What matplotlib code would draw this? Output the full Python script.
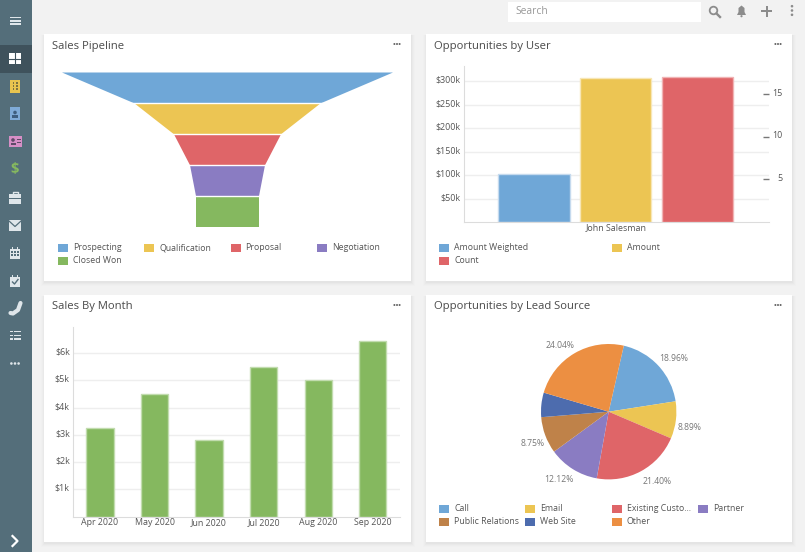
import numpy as np
import matplotlib
matplotlib.use('Agg')
import matplotlib.pyplot as plt
from matplotlib.patches import Rectangle, Circle, Polygon
from matplotlib.transforms import ScaledTranslation

plt.rcParams['font.family'] = ['Open Sans', 'DejaVu Sans']

W, H = 805, 552
BLUE, YELLOW, RED, PURPLE, GREEN = '#6fa7d7', '#ecc553', '#df6568', '#8a7cc2', '#85b85f'
BROWN, NAVY, ORANGE = '#bf8249', '#4d6cae', '#ec8f42'
GRID = '#eeeeee'
AXIS = '#dcdcdc'
TXT = '#555555'

# funnel
stages = ['Prospecting', 'Qualification', 'Proposal', 'Negotiation', 'Closed Won']
stage_colors = [BLUE, YELLOW, RED, PURPLE, GREEN]
funnel_top = [331, 186, 107, 75, 63]
funnel_bottom = [186, 107, 75, 63, 63]

# opportunities by user
user_names = ['John Salesman']
user_series = ['Amount Weighted', 'Amount', 'Count']
amount_weighted = [102000]
amount = [308000]
count = [17]

# sales by month
months = ['Apr 2020', 'May 2020', 'Jun 2020', 'Jul 2020', 'Aug 2020', 'Sep 2020']
sales = [3250, 4500, 2800, 5500, 5000, 6450]

# lead source
sources = ['Call', 'Email', 'Existing Custo...', 'Partner', 'Public Relations', 'Web Site', 'Other']
source_pct = [18.96, 8.89, 21.40, 12.12, 8.75, 5.84, 24.04]
source_colors = [BLUE, YELLOW, RED, PURPLE, BROWN, NAVY, ORANGE]

fig = plt.figure(figsize=(W / 100, H / 100), dpi=100, facecolor='#f2f2f2')


def px_axes(x0, y0, x1, y1, **kw):
    # pixel box, y measured from the top of the image
    return fig.add_axes([x0 / W, 1 - y1 / H, (x1 - x0) / W, (y1 - y0) / H], **kw)


ui = px_axes(0, 0, W, H)
ui.set_xlim(0, W)
ui.set_ylim(H, 0)
ui.axis('off')


def rect(x0, y0, x1, y1, c, **kw):
    ui.add_patch(Rectangle((x0, y0), x1 - x0, y1 - y0, fc=c, ec='none', **kw))


def dots(x, y, c, vertical=False, r=1.1, gap=3.2):
    for k in (-1, 0, 1):
        pos = (x, y + k * gap) if vertical else (x + k * gap, y)
        ui.add_patch(Circle(pos, r, fc=c, ec='none'))


def card(x0, y0, x1, y1, title):
    for k, a in zip((4, 3, 2, 1), (0.008, 0.012, 0.016, 0.02)):
        rect(x0 - k + 1, y0 + 1, x1 + k, y1 + k + 1, 'black', alpha=a)
    rect(x0, y0, x1, y1, 'white')
    ui.text(x0 + 7.7, y0 + 12, title, fontsize=8.15, color='#4a4a4a', va='center')
    dots(x1 - 14, y0 + 10, '#666666', r=1.0, gap=2.6)


def legend(x0, y0, step, labels, colors, ncol=4):
    for i, (lab, c) in enumerate(zip(labels, colors)):
        col, row = i % ncol, i // ncol
        x = x0 + col * step
        y = y0 + row * 13
        rect(x, y, x + 10, y + 8, c)
        ui.text(x + 15, y + 3.5, lab, fontsize=6.35, color=TXT, va='center')


def lift_labels(axis, px=2):
    # y tick labels sit a little above their grid lines
    for lab in axis.get_yticklabels():
        lab.set_transform(lab.get_transform() + ScaledTranslation(0, px / 100, fig.dpi_scale_trans))


# sidebar
rect(0, 0, 32, H, '#546e7a')
rect(0, 45, 32, 73, '#3f525c')
ICON = '#dfe6ea'
for y in (17.5, 20.8, 24):
    rect(10, y - 0.8, 21, y + 0.8, ICON)
rect(9, 53, 21, 64, 'white')
ui.plot([15, 15], [53, 64], color='#3f525c', lw=0.8)
ui.plot([9, 21], [58.5, 58.5], color='#3f525c', lw=0.8)
rect(10, 80, 20, 93, '#e8c44f')
for yy in (83, 86, 89):
    for xx in (13.3, 16.7):
        rect(xx - 0.8, yy - 0.8, xx + 0.8, yy + 0.8, '#7d7340')
rect(10, 107, 20, 120, '#7fabd8')
ui.add_patch(Circle((15, 112.5), 1.8, fc='#3f5f80', ec='none'))
rect(12, 115, 18, 117.5, '#3f5f80')
rect(9, 136, 22, 147, '#d68fc6')
ui.add_patch(Circle((13, 140), 1.8, fc='#5f4a68', ec='none'))
rect(10.5, 142.5, 15.5, 145, '#5f4a68')
rect(17, 139, 21, 140.2, '#5f4a68')
rect(17, 142, 21, 143.2, '#5f4a68')
ui.text(15, 169, '$', fontsize=10.5, fontweight='bold', color='#86b95f', ha='center', va='center')
rect(9, 194, 21, 204, ICON)
rect(9, 198, 21, 199, '#546e7a')
ui.plot([12.5, 12.5, 17.5, 17.5], [194, 191.5, 191.5, 194], color=ICON, lw=1)
rect(9, 220, 21, 231, ICON)
ui.plot([9, 15, 21], [221, 226.5, 221], color='#546e7a', lw=0.9)
rect(10, 249, 20, 259, ICON)
for yy in (252, 255):
    for xx in (12, 15, 18):
        rect(xx - 0.9, yy - 0.9, xx + 0.9, yy + 0.9, '#546e7a')
rect(12, 247, 13, 250, ICON)
rect(17, 247, 18, 250, ICON)
rect(10, 277, 20, 287, ICON)
rect(12, 275, 13, 278, ICON)
rect(17, 275, 18, 278, ICON)
ui.plot([12.5, 14.5, 18], [282, 284, 279.5], color='#546e7a', lw=1)
ui.plot([10.5, 13, 18, 20.5], [313, 313.5, 310, 303], color=ICON, lw=3, solid_capstyle='round')
for yy in (331.5, 335.2, 339):
    rect(14, yy - 0.7, 21, yy + 0.7, ICON)
    rect(10, yy - 0.7, 12.5, yy + 0.7, ICON)
dots(15, 363.5, ICON, r=1.3, gap=3.6)
ui.plot([12.5, 17.5, 12.5], [536, 541, 546], color='white', lw=1.6)

# top bar
rect(508, 2, 701, 22, 'white')
ui.text(515, 11.5, 'Search', fontsize=7.4, color='#999999', va='center')
ui.add_patch(Circle((713.5, 10.5), 3.8, fc='none', ec='#8c8c8c', lw=1.3))
ui.plot([716.5, 720], [13.5, 17], color='#8c8c8c', lw=1.7)
ui.add_patch(Polygon([[737, 15], [738.5, 12], [738.5, 8], [741.5, 5.5], [744.5, 8], [744.5, 12], [746, 15]],
                     fc='#8c8c8c', ec='none'))
ui.add_patch(Circle((741.5, 16.2), 1.1, fc='#8c8c8c', ec='none'))
rect(761, 10, 772, 12, '#8c8c8c')
rect(765.5, 5.5, 767.5, 16.5, '#8c8c8c')
dots(792, 10.5, '#8c8c8c', vertical=True, r=1.3, gap=4.3)

card(44, 34, 411, 281, 'Sales Pipeline')
card(426, 34, 792, 281, 'Opportunities by User')
card(44, 295, 411, 542, 'Sales By Month')
card(426, 295, 792, 542, 'Opportunities by Lead Source')

legend(58, 244, 86.3, stages, stage_colors)
legend(439, 244, 173, user_series, [BLUE, YELLOW, RED], ncol=2)
legend(439, 505, 86.3, sources, source_colors)

# funnel
ax = px_axes(62, 72.5, 393, 227)
ax.set_xlim(-165.5, 165.5)
ax.set_ylim(len(stages), 0)
ax.axis('off')
for i, (top, bot, c) in enumerate(zip(funnel_top, funnel_bottom, stage_colors)):
    ax.fill([-top / 2, top / 2, bot / 2, -bot / 2], [i, i, i + 1, i + 1], color=c, ec='none')
ax.hlines(np.arange(1, len(stages)), -165.5, 165.5, color='white', lw=1)

# opportunities by user
ax = px_axes(463.5, 66, 769, 222)
ax.patch.set_alpha(0)
ax.set_xlim(-0.5, 0.5)
ax.set_ylim(0, 333000)
ax.set_yticks(np.arange(50000, 300001, 50000))
ax.set_yticklabels(['$%dk' % (v / 1000) for v in np.arange(50000, 300001, 50000)])
ax.set_xticks([0.0])
ax.set_xticklabels(user_names)
ax.grid(axis='y', color=GRID, lw=1)
ax.set_axisbelow(True)
ax.tick_params(length=0, labelsize=6.4, labelcolor=TXT, pad=2)
ax.tick_params(axis='x', pad=1)
for s in ('top', 'right'):
    ax.spines[s].set_visible(False)
for s in ('left', 'bottom'):
    ax.spines[s].set_color(AXIS)
ax.bar([-0.269], amount_weighted, width=0.234, color=BLUE, ec='#c5daee', lw=1)
ax.bar([-0.002], amount, width=0.234, color=YELLOW, ec='#f7e6b5', lw=1)
lift_labels(ax)
ax2 = ax.twinx()
ax2.patch.set_alpha(0)
ax2.set_ylim(0, 18.3)
ax2.set_yticks([5, 10, 15])
ax2.tick_params(axis='y', direction='in', length=4.3, width=1, color='#777777',
                labelsize=6.4, labelcolor=TXT, pad=9.4)
for lab in ax2.get_yticklabels():
    lab.set_ha('right')
for s in ax2.spines.values():
    s.set_visible(False)
ax2.bar([0.266], count, width=0.234, color=RED, ec='#f0b3b4', lw=1)
lift_labels(ax2)

# sales by month
ax = px_axes(72.7, 327, 400, 516.5)
ax.patch.set_alpha(0)
xs = np.arange(len(months))
ax.set_xlim(-0.5, 5.5)
ax.set_ylim(0, 6960)
ax.set_yticks(np.arange(1000, 6001, 1000))
ax.set_yticklabels(['$%dk' % (v / 1000) for v in np.arange(1000, 6001, 1000)])
ax.set_xticks(xs)
ax.set_xticklabels(months)
ax.grid(axis='y', color=GRID, lw=1)
ax.set_axisbelow(True)
ax.tick_params(length=0, labelsize=6.4, labelcolor=TXT, pad=2)
ax.tick_params(axis='x', pad=1)
for s in ('top', 'right'):
    ax.spines[s].set_visible(False)
for s in ('left', 'bottom'):
    ax.spines[s].set_color(AXIS)
ax.bar(xs, sales, width=0.5, color=GREEN, ec='#c2dcaf', lw=1)
lift_labels(ax)

# lead source pie
PIE_R = 67.7
ax = px_axes(608.7 - PIE_R, 411.7 - PIE_R, 608.7 + PIE_R, 411.7 + PIE_R)
wedges, _, autotexts = ax.pie(source_pct, colors=source_colors, startangle=77.1, counterclock=False,
                              radius=1, autopct=lambda p: '%.2f%%' % p if p > 6 else '', pctdistance=1.23)
ax.set_xlim(-1, 1)
ax.set_ylim(-1, 1)
# label nudges in pixels, x right and y down
nudges = [(4, 4), (-2, 5), (8.5, -4), (-6, -3), (1.5, 3), (0, 0), (-7, 6)]
for t, (dx, dy) in zip(autotexts, nudges):
    x, y = t.get_position()
    t.set_position((x + dx / PIE_R, y - dy / PIE_R))
    t.set_fontsize(6.2)
    t.set_color('#777777')
    t.set_clip_on(False)

fig.savefig('out.png', dpi=100, facecolor=fig.get_facecolor())
